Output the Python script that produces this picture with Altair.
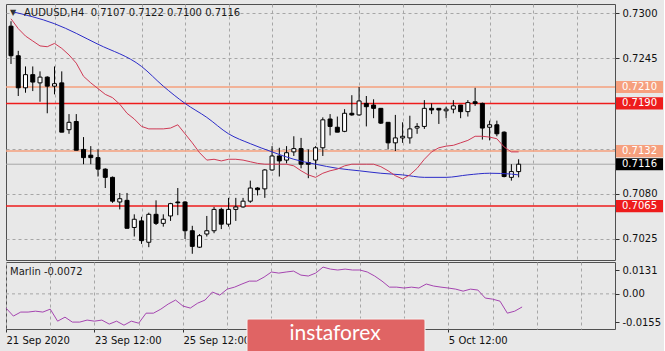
import altair as alt
import pandas as pd

# ---------------- data ----------------
bar_index = list(range(71))
open_px = [0.7284, 0.7248, 0.7209, 0.7225, 0.7215, 0.7222, 0.7211, 0.7215, 0.7158, 0.7168,
           0.7134, 0.7127, 0.7124, 0.7110, 0.7100, 0.7070, 0.7072, 0.7039, 0.7047, 0.7021,
           0.7055, 0.7044, 0.7053, 0.7070, 0.7070, 0.7035, 0.7015, 0.7031, 0.7035, 0.7061,
           0.7043, 0.7061, 0.7064, 0.7071, 0.7087, 0.7086, 0.7109, 0.7126, 0.7121, 0.7131,
           0.7135, 0.7118, 0.7121, 0.7136, 0.7171, 0.7161, 0.7156, 0.7178, 0.7176, 0.7190,
           0.7188, 0.7184, 0.7167, 0.7142, 0.7148, 0.7148, 0.7160, 0.7162, 0.7184, 0.7184,
           0.7181, 0.7183, 0.7188, 0.7180, 0.7192, 0.7190, 0.7161, 0.7164, 0.7155, 0.7100,
           0.7107]
high_px = [0.7290, 0.7254, 0.7235, 0.7235, 0.7229, 0.7223, 0.7235, 0.7229, 0.7177, 0.7177,
           0.7149, 0.7138, 0.7134, 0.7111, 0.7101, 0.7081, 0.7081, 0.7055, 0.7052, 0.7057,
           0.7072, 0.7055, 0.7069, 0.7087, 0.7071, 0.7041, 0.7031, 0.7053, 0.7064, 0.7063,
           0.7075, 0.7075, 0.7075, 0.7096, 0.7088, 0.7110, 0.7138, 0.7136, 0.7138, 0.7150,
           0.7148, 0.7134, 0.7138, 0.7173, 0.7177, 0.7174, 0.7183, 0.7200, 0.7210, 0.7199,
           0.7195, 0.7184, 0.7167, 0.7176, 0.7167, 0.7175, 0.7166, 0.7194, 0.7190, 0.7184,
           0.7186, 0.7194, 0.7188, 0.7194, 0.7209, 0.7191, 0.7169, 0.7169, 0.7156, 0.7116,
           0.7122]
low_px = [0.7238, 0.7199, 0.7203, 0.7205, 0.7192, 0.7178, 0.7201, 0.7155, 0.7153, 0.7133,
          0.7116, 0.7116, 0.7101, 0.7087, 0.7069, 0.7061, 0.7038, 0.7028, 0.7019, 0.7015,
          0.7042, 0.7040, 0.7047, 0.7054, 0.7025, 0.7007, 0.7014, 0.7028, 0.7032, 0.7037,
          0.7040, 0.7047, 0.7063, 0.7069, 0.7078, 0.7075, 0.7108, 0.7101, 0.7117, 0.7126,
          0.7111, 0.7099, 0.7110, 0.7126, 0.7151, 0.7155, 0.7155, 0.7175, 0.7175, 0.7162,
          0.7172, 0.7165, 0.7134, 0.7132, 0.7142, 0.7141, 0.7153, 0.7159, 0.7177, 0.7165,
          0.7172, 0.7178, 0.7172, 0.7174, 0.7187, 0.7146, 0.7145, 0.7150, 0.7100, 0.7096,
          0.7100]
close_px = [0.7248, 0.7209, 0.7225, 0.7216, 0.7222, 0.7211, 0.7214, 0.7155, 0.7167, 0.7133,
            0.7124, 0.7124, 0.7110, 0.7100, 0.7071, 0.7074, 0.7038, 0.7049, 0.7023, 0.7055,
            0.7044, 0.7049, 0.7068, 0.7069, 0.7035, 0.7016, 0.7029, 0.7035, 0.7061, 0.7043,
            0.7061, 0.7064, 0.7071, 0.7087, 0.7085, 0.7109, 0.7126, 0.7120, 0.7130, 0.7135,
            0.7116, 0.7116, 0.7136, 0.7170, 0.7162, 0.7155, 0.7178, 0.7176, 0.7193, 0.7186,
            0.7184, 0.7166, 0.7142, 0.7148, 0.7150, 0.7159, 0.7162, 0.7184, 0.7182, 0.7182,
            0.7183, 0.7187, 0.7180, 0.7191, 0.7190, 0.7160, 0.7164, 0.7153, 0.7101, 0.7107,
            0.7116]

ma_fast = [0.7293, 0.7281, 0.7272, 0.7266, 0.7260, 0.7259, 0.7263, 0.7257, 0.7249, 0.7239,
           0.7223, 0.7215, 0.7208, 0.7201, 0.7197, 0.7189, 0.7178, 0.7171, 0.7162, 0.7159,
           0.7159, 0.7159, 0.7160, 0.7164, 0.7153, 0.7142, 0.7130, 0.7121, 0.7122, 0.7120,
           0.7122, 0.7122, 0.7121, 0.7119, 0.7117, 0.7116, 0.7116, 0.7116, 0.7116, 0.7114,
           0.7108, 0.7103, 0.7100, 0.7105, 0.7108, 0.7110, 0.7114, 0.7116, 0.7116, 0.7116,
           0.7116, 0.7113, 0.7108, 0.7102, 0.7098, 0.7103, 0.7111, 0.7122, 0.7131, 0.7136,
           0.7138, 0.7139, 0.7142, 0.7145, 0.7150, 0.7150, 0.7149, 0.7147, 0.7137, 0.7131,
           0.7131]

ma_slow_bars = [0, 6, 12, 18, 21, 24, 27, 30, 33, 36, 39, 42, 45, 48, 51, 54, 57, 60, 63, 66, 69, 70]
ma_slow = [0.7302, 0.7287, 0.7262, 0.7235, 0.7211, 0.7190, 0.7173, 0.7153, 0.7141, 0.7131,
           0.7122, 0.7116, 0.7111, 0.7108, 0.7105, 0.7103, 0.7100, 0.7100, 0.7103, 0.7105,
           0.7104, 0.7103]

marlin = [-0.0078, -0.0122, -0.0100, -0.0100, -0.0095, -0.0100, -0.0084, -0.0150, -0.0128, -0.0155,
          -0.0155, -0.0144, -0.0150, -0.0144, -0.0166, -0.0150, -0.0172, -0.0150, -0.0161, -0.0106,
          -0.0106, -0.0084, -0.0056, -0.0034, -0.0067, -0.0078, -0.0051, -0.0034, 0.0010, -0.0007,
          0.0026, 0.0037, 0.0054, 0.0070, 0.0070, 0.0092, 0.0120, 0.0114, 0.0120, 0.0125,
          0.0103, 0.0098, 0.0114, 0.0147, 0.0136, 0.0131, 0.0136, 0.0131, 0.0131, 0.0120,
          0.0098, 0.0070, 0.0037, 0.0037, 0.0032, 0.0037, 0.0032, 0.0054, 0.0043, 0.0037,
          0.0032, 0.0026, 0.0015, 0.0026, 0.0021, -0.0023, -0.0029, -0.0040, -0.0106, -0.0095,
          -0.0072]

level_values = [0.7210, 0.7190, 0.7132, 0.7065]
level_kinds = ["salmon", "red", "salmon", "red"]
bid_value = 0.7116

price_ticks = [0.7300, 0.7245, 0.7190, 0.7135, 0.7080, 0.7025]
price_tick_hidden = [0.7190, 0.7135]          # covered by level boxes in the reference
marlin_ticks = [0.0131, 0.0, -0.0155]
marlin_tick_labels = ["0.0131", "0.00", "-0.0155"]
date_label_bars = [0, 12, 24, 60]             # 36 and 48 are covered by the watermark
date_labels = ["21 Sep 2020", "23 Sep 12:00", "25 Sep 12:00", "5 Oct 12:00"]
symbol = "AUDUSD,H4"
indicator_name = "Marlin"
watermark = "instaforex"

# ---------------- styles ----------------
BG = "#e8e8e8"
FRAME = "#505050"
GRID = "#a6a6a6"
FONT = "DejaVu Sans"
SALMON = "#f6a07e"
RED = "#ee1c1c"
BLUE = "#2c2cc8"
CRIMSON = "#cf3a55"
PURPLE = "#a545b0"

candles = pd.DataFrame({"bar": bar_index, "open": open_px, "high": high_px,
                        "low": low_px, "close": close_px})
fast_df = pd.DataFrame({"bar": bar_index, "v": ma_fast})
slow_df = pd.DataFrame({"bar": ma_slow_bars, "v": ma_slow})
marlin_df = pd.DataFrame({"bar": bar_index, "v": marlin})
levels_df = pd.DataFrame({"v": level_values, "kind": level_kinds})
boxes_df = pd.DataFrame({"v": level_values + [bid_value], "kind": level_kinds + ["bid"]})
bid_df = pd.DataFrame({"v": [bid_value]})

xs = alt.Scale(domain=[0, 82.6], nice=False, zero=False)
ys = alt.Scale(domain=[0.69994, 0.73110], nice=False, zero=False)
ysb = alt.Scale(domain=[-0.0193, 0.0175], nice=False, zero=False)
kind_scale = alt.Scale(domain=["salmon", "red", "bid"], range=[SALMON, RED, "#000000"])

hidden_test = " || ".join(f"abs(datum.value - {h}) < 0.00001" for h in price_tick_hidden)
y_top_label_expr = f"({hidden_test}) ? '' : format(datum.value, '.4f')"

x_axis_top = alt.Axis(values=list(range(6, 79, 6)), labels=False, ticks=False, domain=False,
                      grid=True, gridDash=[3, 3], gridColor=GRID, title=None)
y_axis_top = alt.Axis(orient="right", values=price_ticks, labelExpr=y_top_label_expr, tickSize=4,
                      tickColor="#333333", labelPadding=3, labelFont=FONT, labelFontSize=10,
                      labelColor="#111111", domain=False, grid=True, gridDash=[3, 3],
                      gridColor=GRID, title=None, labelOverlap=False, labelBound=False)

X = alt.X("bar:Q", scale=xs, axis=x_axis_top, title=None)

levels = alt.Chart(levels_df).mark_rule(strokeWidth=1.5).encode(
    y=alt.Y("v:Q", scale=ys, axis=y_axis_top, title=None),
    color=alt.Color("kind:N", scale=kind_scale, legend=None))
bid = alt.Chart(bid_df).mark_rule(strokeWidth=1, color="#a8a8a8").encode(
    y=alt.Y("v:Q", scale=ys, axis=y_axis_top, title=None))
wicks = alt.Chart(candles).mark_rule(color="black", strokeWidth=1, clip=True).encode(
    x=X, y=alt.Y("low:Q", scale=ys, axis=y_axis_top, title=None), y2="high:Q")
bodies = alt.Chart(candles).mark_bar(size=4, stroke="black", strokeWidth=1, clip=True).encode(
    x=X, y=alt.Y("open:Q", scale=ys, axis=y_axis_top, title=None), y2="close:Q",
    fill=alt.condition("datum.close >= datum.open", alt.value("white"), alt.value("black")))
slow_line = alt.Chart(slow_df).mark_line(color=BLUE, strokeWidth=1, interpolate="monotone",
                                         clip=True).encode(
    x=X, y=alt.Y("v:Q", scale=ys, axis=y_axis_top, title=None))
fast_line = alt.Chart(fast_df).mark_line(color=CRIMSON, strokeWidth=1, clip=True).encode(
    x=X, y=alt.Y("v:Q", scale=ys, axis=y_axis_top, title=None))
boxes = alt.Chart(boxes_df).transform_calculate(
    lo="datum.v - 0.00074", hi="datum.v + 0.00074"
).mark_rect(clip=False).encode(
    x=alt.value(610), x2=alt.value(657),
    y=alt.Y("lo:Q", scale=ys, axis=y_axis_top, title=None), y2="hi:Q",
    color=alt.Color("kind:N", scale=kind_scale, legend=None))
box_text = alt.Chart(boxes_df).mark_text(align="left", baseline="middle", font=FONT,
                                         fontSize=10, color="white", clip=False).encode(
    x=alt.value(616), y=alt.Y("v:Q", scale=ys, axis=y_axis_top, title=None),
    text=alt.Text("v:Q", format=".4f"))

header = f"{symbol}\u00a0\u00a0{open_px[-1]:.4f} {high_px[-1]:.4f} {low_px[-1]:.4f} {close_px[-1]:.4f}"
header_df = pd.DataFrame({"t": [header]})
header_txt = alt.Chart(header_df).mark_text(align="left", baseline="middle", font=FONT,
                                            fontSize=10, color="#1a1a1a").encode(
    x=alt.value(18), y=alt.value(9), text="t:N")
tri = alt.Chart(pd.DataFrame({"t": ["\u25bc"]})).mark_text(
    align="center", baseline="middle", font=FONT, fontSize=8, color="#333333").encode(
    x=alt.value(7), y=alt.value(9), text="t:N")

top = alt.layer(levels, bid, wicks, bodies, slow_line, fast_line, boxes, box_text,
                header_txt, tri).properties(width=609, height=256)

# ---------------- indicator panel ----------------
label_expr = " : ".join(f"datum.value == {b} ? '{t}'" for b, t in zip(date_label_bars, date_labels)) + " : ''"
tick_test = " || ".join(f"datum.value == {b}" for b in date_label_bars + [36, 48])
y_label_expr = (f"datum.value > 0.001 ? '{marlin_tick_labels[0]}' : "
                f"(datum.value < -0.001 ? '{marlin_tick_labels[2]}' : '{marlin_tick_labels[1]}')")

x_axis_bot = alt.Axis(values=list(range(0, 79, 6)), grid=True, gridDash=[3, 3], gridColor=GRID,
                      labelExpr=label_expr, labelAlign="left", labelFlush=False, labelPadding=3,
                      tickSize=3, tickColor="#333333",
                      tickOpacity={"condition": {"test": tick_test, "value": 1}, "value": 0},
                      domain=False, labelFont=FONT, labelFontSize=10, labelColor="#111111",
                      labelOverlap=False, labelBound=False, title=None)
y_axis_bot = alt.Axis(orient="right", values=marlin_ticks, labelExpr=y_label_expr, grid=False,
                      tickSize=4, tickColor="#333333", labelPadding=3, domain=False,
                      labelFont=FONT, labelFontSize=10, labelColor="#111111",
                      labelOverlap=False, labelBound=False, title=None)

XB = alt.X("bar:Q", scale=xs, axis=x_axis_bot, title=None)
zero_grid = alt.Chart(pd.DataFrame({"v": [0.0]})).mark_rule(strokeDash=[3, 3], color=GRID).encode(
    y=alt.Y("v:Q", scale=ysb, axis=y_axis_bot, title=None))
marlin_line = alt.Chart(marlin_df).mark_line(color=PURPLE, strokeWidth=1).encode(
    x=XB, y=alt.Y("v:Q", scale=ysb, axis=y_axis_bot, title=None))
marlin_txt = alt.Chart(pd.DataFrame({"t": [f"{indicator_name} {marlin[-1]:.4f}"]})).mark_text(
    align="left", baseline="middle", font=FONT, fontSize=10, color="#1a1a1a").encode(
    x=alt.value(4), y=alt.value(10), text="t:N")
banner = alt.Chart(pd.DataFrame({"t": [watermark]})).mark_rect(
    fill="#e06464", stroke="#f4f4f4", strokeWidth=1, cornerRadius=2, clip=False).encode(
    x=alt.value(241), x2=alt.value(419), y=alt.value(57), y2=alt.value(100))
banner_txt = alt.Chart(pd.DataFrame({"t": [watermark]})).mark_text(
    align="center", baseline="middle", font="Lato", fontSize=21, color="white", clip=False).encode(
    x=alt.value(329), y=alt.value(72), text="t:N")

bottom = alt.layer(zero_grid, marlin_line, marlin_txt, banner, banner_txt).properties(
    width=609, height=67)

chart = alt.vconcat(top, bottom, spacing=0).properties(
    background=BG, padding={"left": 3, "top": 3, "right": 0, "bottom": 0}
).configure_view(stroke=FRAME, strokeWidth=1)

chart.save("out.html", embed_options={"renderer": "svg", "actions": False})
